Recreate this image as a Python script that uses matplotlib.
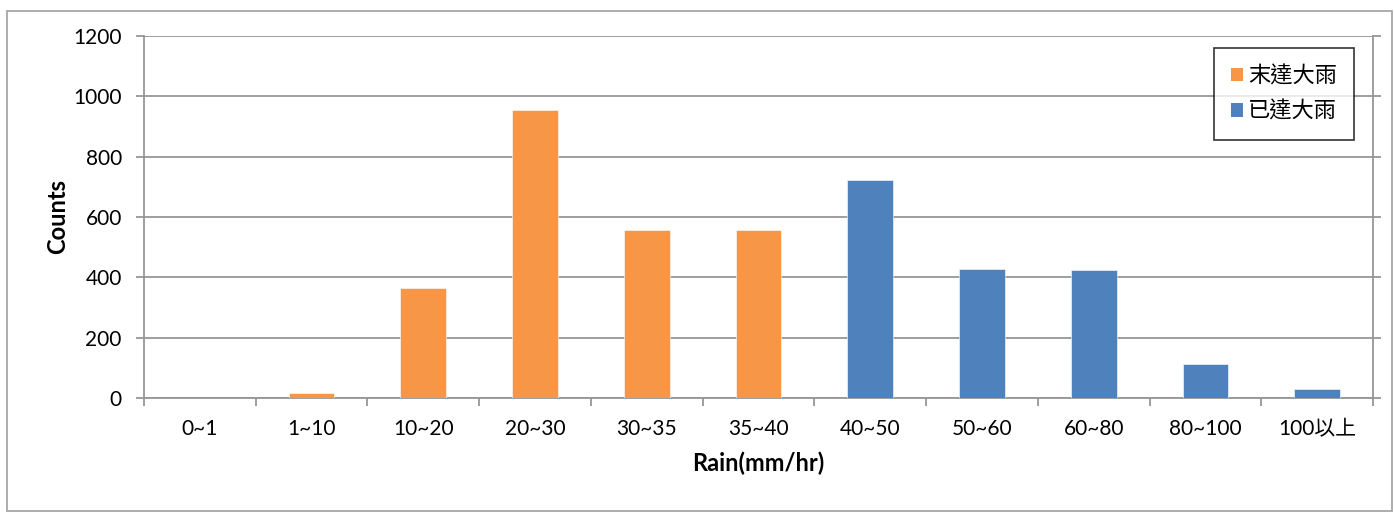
import numpy as np
import matplotlib.pyplot as plt
from matplotlib.patches import Patch, Rectangle

plt.rcParams['font.family'] = ['Lato', 'Noto Sans CJK TC', 'DejaVu Sans']

categories = ["0~1", "1~10", "10~20", "20~30", "30~35", "35~40",
              "40~50", "50~60", "60~80", "80~100", "100以上"]
counts = [0, 16, 364, 956, 556, 557, 723, 426, 424, 113, 31]
heavy = [False, False, False, False, False, False,
         True, True, True, True, True]
series_names = ["末達大雨", "已達大雨"]

orange = "#F79646"
blue = "#4F81BD"
grid_c = "#969696"

fig = plt.figure(figsize=(13.94, 5.13), dpi=100)
# outer chart border
fig.patches.append(Rectangle((7 / 1394, 2 / 513), 1385 / 1394, 500 / 513,
                             transform=fig.transFigure, fill=False,
                             edgecolor="#a0a0a0", linewidth=1.2))

ax = fig.add_axes([144 / 1394, 1 - 398 / 513, (1373 - 144) / 1394, (398 - 36) / 513])

x = np.arange(len(categories))
colors = [blue if h else orange for h in heavy]
ax.bar(x, counts, width=0.41, color=colors, edgecolor="white", linewidth=0.4, zorder=3)

ax.set_xlim(-0.5, len(categories) - 0.5)
ax.set_ylim(0, 1200)
ax.set_yticks(np.arange(0, 1201, 200))
ax.yaxis.grid(True, color=grid_c, linewidth=1.3, zorder=0)

ax.set_xticks(x)
ax.set_xticklabels(categories, fontsize=15)
ax.set_xticks(np.arange(-0.5, len(categories)), minor=True)
ax.tick_params(axis="x", which="major", length=0, pad=15)
ax.tick_params(axis="x", which="minor", length=6, color=grid_c, width=1.3)
ax.tick_params(axis="y", length=6, color=grid_c, width=1.3, labelsize=15, pad=10,
               right=True, labelright=False)

for s in ["left", "bottom", "right"]:
    ax.spines[s].set_color(grid_c)
    ax.spines[s].set_linewidth(1.3)
ax.spines["top"].set_visible(False)

ax.set_ylabel("Counts", fontsize=17, fontweight="bold", labelpad=3)
ax.set_xlabel("Rain(mm/hr)", fontsize=17, fontweight="bold", labelpad=9)

handles = [Patch(facecolor=orange), Patch(facecolor=blue)]
leg = ax.legend(handles, series_names, loc="upper right",
                bbox_to_anchor=(1354 / 1394, 1 - 48 / 513), bbox_transform=fig.transFigure,
                fontsize=16, frameon=True, fancybox=False, edgecolor="black",
                handlelength=0.55, handleheight=0.55, handletextpad=0.25,
                labelspacing=0.55, borderpad=0.75, borderaxespad=0)
leg.get_frame().set_linewidth(1.2)
for t in leg.get_texts():
    t.set_family(["Noto Sans CJK TC", "DejaVu Sans"])

fig.savefig("out.png", dpi=100)
